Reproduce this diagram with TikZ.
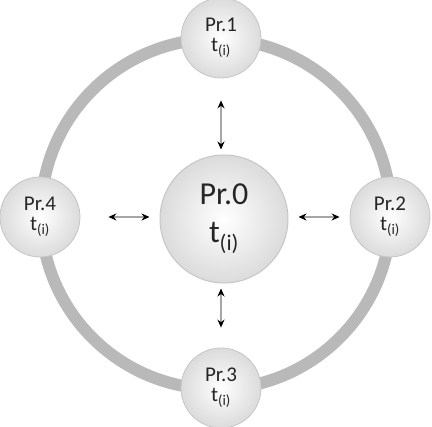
\documentclass[tikz,border=0pt]{standalone}
\usepackage{fontspec}
\setmainfont{Carlito}
\usetikzlibrary{arrows.meta}

\tikzset{
    proc/.style={circle, draw=gray!45, line width=0.8pt, shading=radial,
        inner color=white, outer color=gray!28, align=center, text=black!85,
        minimum size=80pt, inner sep=0pt, font=\fontsize{21}{20}\selectfont},
    bigproc/.style={proc, minimum size=128pt, line width=1pt,
        font=\fontsize{32}{36}\selectfont},
    link/.style={{Stealth[length=8pt,width=7pt,black]}-{Stealth[length=8pt,width=7pt,black]},
        line width=1.2pt, draw=gray!70}
}

\begin{document}
\begin{tikzpicture}[x=1pt, y=-1pt]
    \useasboundingbox (0,0) rectangle (432,427);
    \draw[line width=12pt, gray!55] (216,214) circle (175pt);
    \node[bigproc] (p0) at (224,219) {Pr.0\\[2pt]t\textsubscript{(i)}};
    \node[proc] (p1) at (221,38) {Pr.1\\t\textsubscript{(i)}};
    \node[proc] (p2) at (390,217) {Pr.2\\t\textsubscript{(i)}};
    \node[proc] (p3) at (221,388) {Pr.3\\t\textsubscript{(i)}};
    \node[proc] (p4) at (40,217) {Pr.4\\t\textsubscript{(i)}};
    \draw[link, shorten <=22pt, shorten >=5pt] (p1.south) -- (p1.south |- p0.north);
    \draw[link, shorten <=20pt, shorten >=5pt] (p3.north) -- (p3.north |- p0.south);
    \draw[link, shorten <=28pt, shorten >=10pt] (p4.east) -- (p4.east -| p0.west);
    \draw[link, shorten <=10pt, shorten >=10pt] (p0.east |- p2.west) -- (p2.west);
\end{tikzpicture}
\end{document}
